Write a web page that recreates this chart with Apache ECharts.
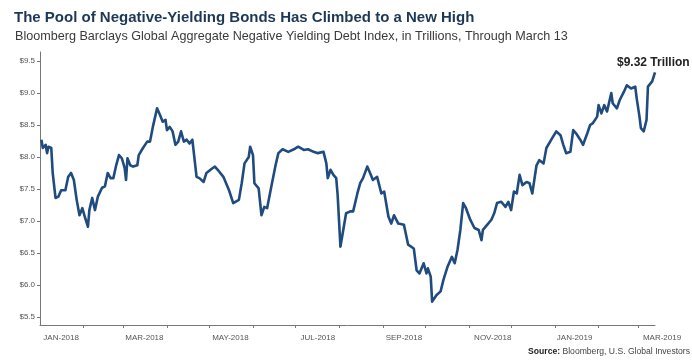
<!DOCTYPE html>
<html>
<head>
<meta charset="utf-8">
<script src="https://cdn.jsdelivr.net/npm/echarts@6/dist/echarts.min.js"></script>
<style>
html,body{margin:0;padding:0;background:#fff}
#main{width:692px;height:361px}
</style>
</head>
<body>
<div id="main"></div>
<script>
// index level, trillions USD
var dates = [
  '2018-01-02','2018-01-03','2018-01-05','2018-01-06','2018-01-07','2018-01-09','2018-01-10','2018-01-12','2018-01-14','2018-01-16',
  '2018-01-19','2018-01-21','2018-01-23','2018-01-25','2018-01-27','2018-01-29','2018-01-31','2018-02-02','2018-02-04','2018-02-05',
  '2018-02-07','2018-02-09','2018-02-11','2018-02-14','2018-02-16','2018-02-18','2018-02-20','2018-02-22','2018-02-24','2018-02-26',
  '2018-02-28','2018-03-02','2018-03-03','2018-03-04','2018-03-06','2018-03-08','2018-03-11','2018-03-12','2018-03-15','2018-03-18',
  '2018-03-20','2018-03-22','2018-03-25','2018-03-27','2018-03-29','2018-03-31','2018-04-01','2018-04-03','2018-04-05','2018-04-07',
  '2018-04-09','2018-04-11','2018-04-13','2018-04-15','2018-04-17','2018-04-19','2018-04-22','2018-04-24','2018-04-27','2018-04-29',
  '2018-05-03','2018-05-05','2018-05-07','2018-05-11','2018-05-15','2018-05-18','2018-05-22','2018-05-24','2018-05-26','2018-05-29',
  '2018-05-30','2018-06-01','2018-06-02','2018-06-05','2018-06-07','2018-06-09','2018-06-11','2018-06-14','2018-06-17','2018-06-19',
  '2018-06-22','2018-06-26','2018-06-30','2018-07-03','2018-07-07','2018-07-10','2018-07-14','2018-07-17','2018-07-21','2018-07-23',
  '2018-07-24','2018-07-26','2018-07-28','2018-07-30','2018-07-31','2018-08-02','2018-08-04','2018-08-06','2018-08-09','2018-08-11',
  '2018-08-14','2018-08-16','2018-08-18','2018-08-21','2018-08-23','2018-08-25','2018-08-28','2018-08-31','2018-09-02','2018-09-05',
  '2018-09-07','2018-09-09','2018-09-12','2018-09-16','2018-09-19','2018-09-23','2018-09-25','2018-09-27','2018-09-30','2018-10-02',
  '2018-10-03','2018-10-05','2018-10-06','2018-10-09','2018-10-12','2018-10-14','2018-10-17','2018-10-20','2018-10-22','2018-10-24',
  '2018-10-26','2018-10-28','2018-10-30','2018-11-02','2018-11-05','2018-11-08','2018-11-10','2018-11-11','2018-11-14','2018-11-17',
  '2018-11-19','2018-11-21','2018-11-24','2018-11-27','2018-11-29','2018-12-01','2018-12-03','2018-12-05','2018-12-07','2018-12-09',
  '2018-12-12','2018-12-14','2018-12-16','2018-12-19','2018-12-21','2018-12-24','2018-12-26','2018-12-30','2019-01-02','2019-01-05',
  '2019-01-07','2019-01-09','2019-01-12','2019-01-14','2019-01-16','2019-01-19','2019-01-21','2019-01-24','2019-01-26','2019-01-28',
  '2019-01-31','2019-02-01','2019-02-03','2019-02-05','2019-02-07','2019-02-10','2019-02-11','2019-02-14','2019-02-16','2019-02-19',
  '2019-02-21','2019-02-24','2019-02-27','2019-02-28','2019-03-02','2019-03-03','2019-03-05','2019-03-07','2019-03-08','2019-03-11',
  '2019-03-13'
]
var values = [
  8.27,8.14,8.19,8.06,8.16,8.14,7.75,7.36,7.38,7.48,
  7.48,7.69,7.75,7.64,7.33,7.09,7.20,7.05,6.91,7.17,
  7.36,7.17,7.38,7.52,7.54,7.75,7.67,7.67,7.87,8.03,
  7.98,7.83,7.64,7.98,7.87,7.85,7.87,8.03,8.14,8.24,
  8.24,8.47,8.76,8.66,8.55,8.58,8.42,8.47,8.40,8.19,
  8.24,8.40,8.24,8.27,8.21,8.27,7.69,7.67,7.61,7.75,
  7.82,7.85,7.80,7.69,7.48,7.28,7.33,7.59,7.90,8.00,
  8.16,8.03,7.59,7.51,7.09,7.22,7.20,7.54,7.87,8.06,
  8.12,8.08,8.12,8.16,8.11,8.12,8.08,8.06,8.08,7.90,
  7.67,7.80,7.72,7.67,7.41,6.60,6.86,7.12,7.15,7.15,
  7.43,7.59,7.67,7.85,7.75,7.64,7.69,7.43,7.46,7.07,
  6.96,7.09,6.96,6.94,6.63,6.57,6.23,6.18,6.34,6.18,
  6.26,6.13,5.74,5.84,5.90,6.08,6.29,6.44,6.34,6.55,
  6.86,7.28,7.20,7.02,6.89,6.86,6.70,6.86,6.94,7.02,
  7.12,7.28,7.30,7.22,7.30,7.17,7.46,7.43,7.72,7.56,
  7.61,7.59,7.43,7.87,7.95,7.90,8.14,8.29,8.40,8.34,
  8.19,8.06,8.08,8.42,8.37,8.27,8.19,8.37,8.50,8.53,
  8.63,8.81,8.68,8.81,8.71,9.00,8.84,8.76,8.89,9.02,
  9.12,9.07,9.10,8.92,8.63,8.45,8.40,8.58,9.10,9.18,
  9.32
]
var yTicks = [5.5, 6.0, 6.5, 7.0, 7.5, 8.0, 8.5, 9.0, 9.5]
var xLabels = ['JAN-2018','MAR-2018','MAY-2018','JUL-2018','SEP-2018','NOV-2018','JAN-2019','MAR-2019']
var xLabelDates = ['2018-01-16','2018-03-16','2018-05-16','2018-07-17','2018-09-16','2018-11-18','2019-01-15','2019-03-13']
var monthStarts = ['2018-02-01','2018-03-01','2018-04-01','2018-05-01','2018-06-01','2018-07-01','2018-08-01',
  '2018-09-01','2018-10-01','2018-11-01','2018-12-01','2019-01-01','2019-02-01','2019-03-01']
var startDate = '2018-01-01'
var endDate = '2019-03-13'

function dayOf(s) {
  var p = s.split('-')
  return (Date.UTC(+p[0], +p[1] - 1, +p[2]) - Date.UTC(2018, 0, 1)) / 86400000
}

var seriesData = dates.map(function (d, i) { return [dayOf(d), values[i]] })
var labelDays = xLabelDates.map(dayOf)
var tickDays = monthStarts.map(dayOf)

var font = 'Liberation Sans'
var myChart = echarts.init(document.getElementById('main'))
var option = {
  animation: false,
  backgroundColor: '#fff',
  title: [{
    text: 'The Pool of Negative-Yielding Bonds Has Climbed to a New High',
    left: 9, top: 5,
    textStyle: { fontFamily: font, fontSize: 15, fontWeight: 'bold', color: '#1d3856' }
  }, {
    text: 'Bloomberg Barclays Global Aggregate Negative Yielding Debt Index, in Trillions, Through March 13',
    left: 10, top: 25,
    textStyle: { fontFamily: font, fontSize: 12.6, fontWeight: 'normal', color: '#3a3a3a' }
  }],
  graphic: [{
    type: 'text', left: 617, top: 57,
    style: { text: '$9.32 Trillion', font: 'bold 12px "Liberation Sans"', fill: '#222' }
  }, {
    type: 'text', right: 2, top: 347,
    style: {
      text: '{b|Source:} Bloomberg, U.S. Global Investors',
      font: '8.6px "Liberation Sans"', fill: '#444',
      rich: { b: { fontWeight: 'bold', fontSize: 8.6, fontFamily: font, fill: '#222' } }
    }
  }],
  grid: { left: 40, right: 37, top: 52, bottom: 36 },
  xAxis: {
    type: 'value',
    min: dayOf(startDate),
    max: dayOf(endDate),
    axisLine: { lineStyle: { color: '#777', width: 1 } },
    axisTick: { show: true, length: 3, customValues: tickDays, lineStyle: { color: '#777' } },
    axisLabel: {
      customValues: labelDays,
      margin: 9,
      fontSize: 8,
      fontFamily: font,
      color: '#555',
      formatter: function (v) {
        var i = labelDays.indexOf(v)
        if (i === xLabels.length - 1) return '{r|' + xLabels[i] + '}'
        return xLabels[i] || ''
      },
      rich: { r: { padding: [0, 0, 0, 14], fontSize: 8, fontFamily: font, color: '#555' } }
    },
    splitLine: { show: false }
  },
  yAxis: {
    type: 'value',
    min: 5.375,
    max: 9.64,
    axisLine: { show: true, lineStyle: { color: '#777', width: 1 } },
    axisTick: { show: true, length: 3, customValues: yTicks, lineStyle: { color: '#777' } },
    axisLabel: {
      customValues: yTicks,
      margin: 5,
      fontSize: 8,
      fontFamily: font,
      color: '#555',
      formatter: function (v) { return '$' + v.toFixed(1) }
    },
    splitLine: { show: false }
  },
  series: [{
    type: 'line',
    data: seriesData,
    symbol: 'none',
    lineStyle: { color: '#1f4b7e', width: 2.6, join: 'round' }
  }]
}
myChart.setOption(option)
</script>
</body>
</html>
